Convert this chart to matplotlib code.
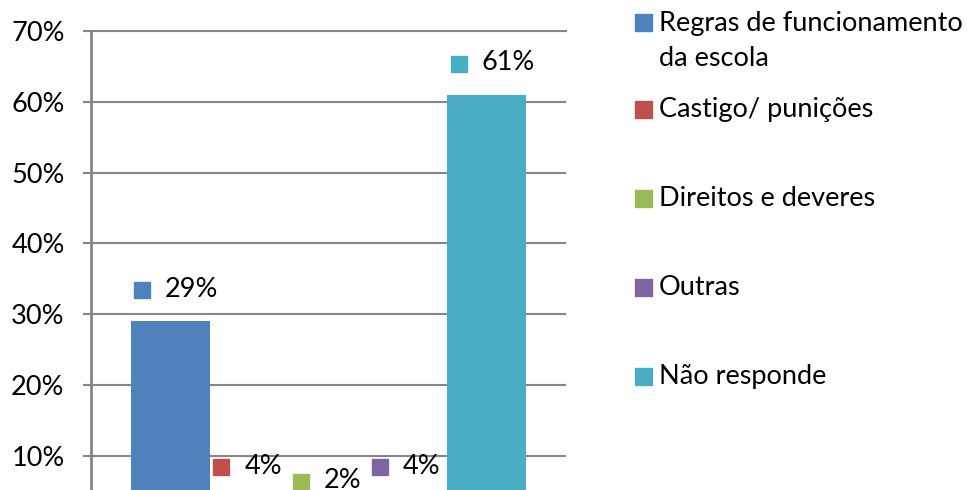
import matplotlib
matplotlib.use("Agg")
import matplotlib.pyplot as plt
from matplotlib.transforms import offset_copy
from matplotlib.patches import Rectangle

series = ["Regras de funcionamento\nda escola", "Castigo/ punições",
          "Direitos e deveres", "Outras", "Não responde"]
values = [0.29, 0.04, 0.02, 0.04, 0.61]
labels = ["29%", "4%", "2%", "4%", "61%"]
colors = ["#4F81BD", "#C0504D", "#9BBB59", "#8064A2", "#4BACC6"]
yticks = [0.0, 0.1, 0.2, 0.3, 0.4, 0.5, 0.6, 0.7]
ytick_labels = ["0%", "10%", "20%", "30%", "40%", "50%", "60%", "70%"]

plt.rcParams["font.family"] = ["Lato", "DejaVu Sans"]
FS = 19.5
W, H = 978, 490
fig = plt.figure(figsize=(W / 100, H / 100), dpi=100)
top_px, zero_px = 31, 526.8
ax = fig.add_axes([91 / W, (H - zero_px) / H, 475 / W, (zero_px - top_px) / H])

grid_col = "#868686"
n = len(values)
xs = [i - (n - 1) / 2 for i in range(n)]
ax.bar(xs, values, width=1.0, color=colors, zorder=3)

ax.set_xlim(-3, 3)
ax.set_ylim(0, 0.7)
ax.set_yticks(yticks)
ax.set_yticklabels(ytick_labels, fontsize=FS)
ax.set_xticks([])
ax.yaxis.grid(True, color=grid_col, linewidth=1.5, zorder=0)
ax.tick_params(axis="y", length=6, width=1.5, color=grid_col, pad=13)
for s in ["right", "bottom"]:
    ax.spines[s].set_visible(False)
ax.spines["left"].set_color(grid_col)
ax.spines["left"].set_linewidth(2)
ax.spines["top"].set_color(grid_col)
ax.spines["top"].set_linewidth(1.5)
ax.spines["left"].set_zorder(4)

for x, v, lab, c in zip(xs, values, labels, colors):
    tm = offset_copy(ax.transData, fig=fig, x=-28, y=31, units="dots")
    ax.plot([x], [v], marker="s", markersize=12, color=c, linestyle="none",
            transform=tm, zorder=5, clip_on=False)
    tt = offset_copy(ax.transData, fig=fig, x=-5, y=32, units="dots")
    ax.text(x, v, lab, transform=tt, ha="left", va="center", fontsize=FS,
            zorder=5, clip_on=False)

# legend
leg_sq_y = [23, 110, 199, 287.5, 376]
leg_txt_y = [41, 110, 199, 287.5, 376]
sq = 17
for name, c, ys, yt in zip(series, colors, leg_sq_y, leg_txt_y):
    fig.patches.append(Rectangle((635 / W, (H - ys - sq / 2) / H), sq / W, sq / H,
                                 transform=fig.transFigure, color=c))
    fig.text(659 / W, (H - yt) / H, name, ha="left", va="center",
             fontsize=FS, linespacing=1.45)

fig.savefig("out.png", dpi=100)
